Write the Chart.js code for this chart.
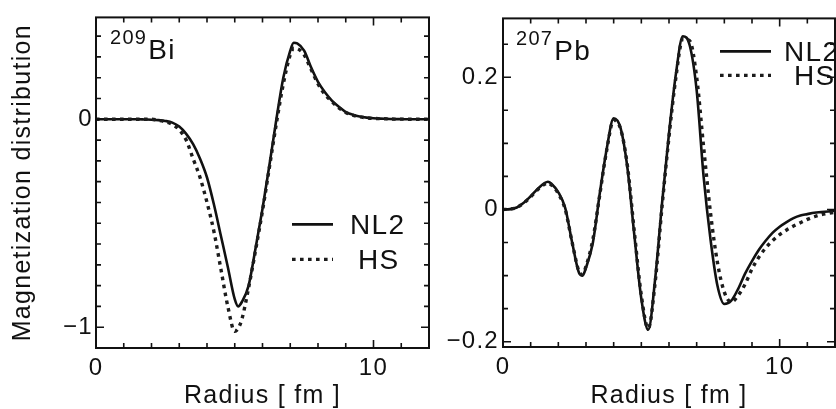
<!DOCTYPE html>
<html>
<head>
<meta charset="utf-8">
<script src="https://cdn.jsdelivr.net/npm/chart.js@4.4.1/dist/chart.umd.min.js"></script>
<style>
  html, body { margin: 0; padding: 0; background: #fff; }
  #wrap { position: relative; width: 836px; height: 409px; overflow: hidden; background: #fff; }
  #biBox { position: absolute; left: 0; top: 0; width: 440px; height: 409px; }
  #pbBox { position: absolute; left: 440px; top: 0; width: 396px; height: 409px; }
</style>
</head>
<body>
<div id="wrap">
  <div id="biBox"><canvas id="bi" width="440" height="409"></canvas></div>
  <div id="pbBox"><canvas id="pb" width="396" height="409"></canvas></div>
</div>
<script>
// 209Bi: radial knots [fm] and magnetization distribution
const biRadius = [0, 0.25, 0.5, 0.75, 1, 1.25, 1.5, 1.75, 2, 2.25, 2.5, 2.75, 3, 3.25, 3.5, 3.75,
  4, 4.25, 4.5, 4.75, 5, 5.125, 5.25, 5.5, 5.75, 6, 6.25, 6.5, 6.75, 7, 7.125, 7.25, 7.5, 7.75,
  8, 8.25, 8.5, 8.75, 9, 9.25, 9.5, 9.75, 10, 10.25, 10.5, 10.75, 11, 11.25, 11.5, 11.75, 12];
const biNL2 = [0, 0, 0, 0, 0, 0, 0, -0.001, -0.002, -0.004, -0.008, -0.016, -0.035, -0.07, -0.12, -0.19,
  -0.28, -0.41, -0.56, -0.71, -0.865, -0.90, -0.88, -0.80, -0.62, -0.43, -0.22, 0.0, 0.2, 0.33, 0.368, 0.365, 0.33, 0.25,
  0.18, 0.13, 0.09, 0.06, 0.035, 0.022, 0.013, 0.008, 0.005, 0.003, 0.002, 0.001, 0.001, 0, 0, 0, 0];
const biHS = [0, 0, 0, 0, 0, 0, 0, 0, 0, -0.005, -0.012, -0.025, -0.05, -0.10, -0.19, -0.28,
  -0.40, -0.54, -0.72, -0.90, -1.02, -1.005, -0.965, -0.81, -0.63, -0.44, -0.23, -0.02, 0.17, 0.31, 0.342, 0.34, 0.31, 0.24,
  0.17, 0.12, 0.085, 0.055, 0.033, 0.02, 0.012, 0.007, 0.004, 0.003, 0.002, 0.001, 0.001, 0, 0, 0, 0];

// 207Pb: radial knots [fm] and magnetization distribution
const pbRadius = [0, 0.25, 0.5, 0.75, 1, 1.25, 1.5, 1.625, 1.75, 2, 2.25, 2.5, 2.75, 2.875, 3,
  3.25, 3.5, 3.75, 4, 4.25, 4.5, 4.75, 5, 5.25, 5.5, 5.75, 6, 6.25, 6.5, 6.75, 7, 7.25, 7.5, 7.75,
  8, 8.25, 8.5, 8.75, 9, 9.25, 9.5, 9.75, 10, 10.25, 10.5, 10.75, 11, 11.25, 11.5, 11.75, 12];
const pbNL2 = [0, 0.0005, 0.003, 0.01, 0.02, 0.031, 0.04, 0.042, 0.039, 0.026, 0.002, -0.05, -0.096, -0.10, -0.088,
  -0.05, 0.025, 0.092, 0.138, 0.123, 0.062, -0.04, -0.135, -0.182, -0.105, 0.01, 0.115, 0.205, 0.262, 0.248, 0.18, 0.05, -0.045, -0.115,
  -0.143, -0.138, -0.12, -0.097, -0.078, -0.061, -0.047, -0.035, -0.026, -0.019, -0.013, -0.009, -0.007, -0.005, -0.004, -0.003, -0.002];
const pbHS = [0, 0.0005, 0.003, 0.01, 0.019, 0.03, 0.038, 0.04, 0.037, 0.024, 0.0, -0.05, -0.094, -0.098, -0.086,
  -0.045, 0.023, 0.09, 0.135, 0.122, 0.065, -0.035, -0.13, -0.18, -0.11, 0.005, 0.11, 0.2, 0.258, 0.255, 0.2, 0.095, -0.005, -0.08,
  -0.125, -0.14, -0.13, -0.113, -0.09, -0.072, -0.058, -0.047, -0.038, -0.031, -0.025, -0.02, -0.015, -0.011, -0.008, -0.006, -0.004];

// Labelled ticks
const radiusTicks = [0, 10];
const biTicks = [-1, 0];
const pbTicks = [-0.2, 0, 0.2];

// Texts
const seriesNames = ['NL2', 'HS'];
const biNucleus = ['209', 'Bi'];
const pbNucleus = ['207', 'Pb'];
const xTitle = 'Radius [ fm ]';
const yTitle = 'Magnetization distribution';

const FONT = "'Liberation Sans', Arial, Helvetica, sans-serif";
const INK = '#111';

function points(rs, values) {
  return rs.map((r, i) => ({ x: r, y: values[i] }));
}

function fmt(v) {
  const s = String(Math.round(v * 100) / 100);
  return s.replace('-', '\u2212');
}

function isMajor(v, list) {
  return list.some(t => Math.abs(t - v) < 1e-9);
}

// Frame, inward tick marks, nucleus label and in-plot legend
function panelPlugin(cfg) {
  return {
    id: 'panel_' + cfg.name,
    beforeDraw(chart) {
      chart.ctx.letterSpacing = '1.3px';
    },
    afterDatasetsDraw(chart) {
      const { ctx, chartArea: ca } = chart;
      const xs = chart.scales.x, ys = chart.scales.y;
      ctx.save();
      ctx.strokeStyle = INK;
      ctx.lineWidth = 2;
      ctx.strokeRect(ca.left, ca.top, ca.right - ca.left, ca.bottom - ca.top);

      ctx.lineWidth = 1.6;
      ctx.beginPath();
      for (let k = Math.ceil(xs.min / cfg.xStep); k * cfg.xStep <= xs.max + 1e-9; k++) {
        const v = k * cfg.xStep;
        const px = xs.getPixelForValue(v);
        if (px <= ca.left + 1 || px >= ca.right - 1) continue;
        const len = isMajor(v, radiusTicks) ? 8 : 5;
        ctx.moveTo(px, ca.bottom); ctx.lineTo(px, ca.bottom - len);
        ctx.moveTo(px, ca.top); ctx.lineTo(px, ca.top + len);
      }
      for (let k = Math.ceil(ys.min / cfg.yStep - 1e-9); k * cfg.yStep <= ys.max + 1e-9; k++) {
        const v = k * cfg.yStep;
        const py = ys.getPixelForValue(v);
        if (py <= ca.top + 1 || py >= ca.bottom - 1) continue;
        const len = isMajor(v, cfg.yTicks) ? 8 : 5;
        ctx.moveTo(ca.left, py); ctx.lineTo(ca.left + len, py);
        ctx.moveTo(ca.right, py); ctx.lineTo(ca.right - len, py);
      }
      ctx.stroke();

      // nucleus label with mass number as superscript
      ctx.fillStyle = INK;
      ctx.textBaseline = 'alphabetic';
      ctx.textAlign = 'left';
      ctx.font = '20px ' + FONT;
      ctx.fillText(cfg.nucleus[0], ca.left + cfg.nuc.x, ca.top + cfg.nuc.supY);
      const w = ctx.measureText(cfg.nucleus[0]).width;
      ctx.font = '28px ' + FONT;
      ctx.fillText(cfg.nucleus[1], ca.left + cfg.nuc.x + w + 1, ca.top + cfg.nuc.y);

      // legend
      chart.data.datasets.forEach((ds, i) => {
        const L = cfg.legend[i];
        ctx.save();
        ctx.strokeStyle = ds.borderColor;
        ctx.lineWidth = ds.borderWidth;
        ctx.setLineDash(ds.borderDash || []);
        ctx.beginPath();
        ctx.moveTo(ca.left + L.x0, ca.top + L.ly);
        ctx.lineTo(ca.left + L.x1, ca.top + L.ly);
        ctx.stroke();
        ctx.restore();
        ctx.font = '28px ' + FONT;
        ctx.fillStyle = INK;
        ctx.fillText(ds.label, ca.left + L.tx, ca.top + L.ty);
      });
      ctx.restore();
    }
  };
}

function makeChart(id, cfg) {
  const datasets = [
    { label: seriesNames[0], data: points(cfg.r, cfg.nl2), borderColor: INK, borderWidth: 2.6,
      pointRadius: 0, cubicInterpolationMode: 'monotone', fill: false, order: 1 },
    { label: seriesNames[1], data: points(cfg.r, cfg.hs), borderColor: '#1c1c1c', borderWidth: 3.4,
      borderDash: [3.6, 4.4], pointRadius: 0, cubicInterpolationMode: 'monotone', fill: false, order: 0 }
  ];
  return new Chart(document.getElementById(id), {
    type: 'line',
    data: { datasets },
    options: {
      responsive: false,
      animation: false,
      devicePixelRatio: 1,
      layout: { padding: { left: 0, top: 15, right: cfg.padR, bottom: 0 } },
      plugins: { legend: { display: false }, tooltip: { enabled: false } },
      scales: {
        x: {
          type: 'linear', min: 0, max: 12,
          afterBuildTicks: s => { s.ticks = radiusTicks.map(v => ({ value: v })); },
          afterFit: s => { s.height = cfg.xH; },
          ticks: { font: { family: FONT, size: 24 }, color: INK, padding: 6,
                   maxRotation: 0, autoSkip: false, callback: v => fmt(v) },
          grid: { display: false, drawTicks: false, tickLength: 0 },
          border: { display: false },
          title: { display: true, text: xTitle, color: INK,
                   font: { family: FONT, size: 25, lineHeight: 1 }, padding: { top: 0, bottom: 0.5 } }
        },
        y: {
          type: 'linear', min: cfg.yMin, max: cfg.yMax,
          afterBuildTicks: s => { s.ticks = cfg.yTicks.map(v => ({ value: v })); },
          afterFit: s => { s.width = cfg.yW; },
          ticks: { font: { family: FONT, size: 24 }, color: INK, padding: cfg.yPad,
                   autoSkip: false, callback: v => fmt(v) },
          grid: { display: false, drawTicks: false, tickLength: 0 },
          border: { display: false },
          title: { display: cfg.showYTitle, text: yTitle, color: INK,
                   font: { family: FONT, size: 25, lineHeight: 1 }, padding: { top: 10.5, bottom: 0 } }
        }
      }
    },
    plugins: [panelPlugin(cfg)]
  });
}

makeChart('bi', {
  name: 'bi', r: biRadius, nl2: biNL2, hs: biHS, nucleus: biNucleus,
  yMin: -1.1, yMax: 0.49, yTicks: biTicks, xStep: 1, yStep: 0.1,
  xH: 61, yW: 96, padR: 11, yPad: 3, showYTitle: true,
  nuc: { x: 14, supY: 27, y: 42 },
  legend: [
    { x0: 196, x1: 237, ly: 207, tx: 254, ty: 217 },
    { x0: 196, x1: 237, ly: 242, tx: 262, ty: 252 }
  ]
});

makeChart('pb', {
  name: 'pb', r: pbRadius, nl2: pbNL2, hs: pbHS, nucleus: pbNucleus,
  yMin: -0.208, yMax: 0.289, yTicks: pbTicks, xStep: 1, yStep: 0.05,
  xH: 62, yW: 63, padR: 1, yPad: 4, showYTitle: false,
  nuc: { x: 13, supY: 27, y: 42 },
  legend: [
    { x0: 217, x1: 268, ly: 33, tx: 281, ty: 43 },
    { x0: 217, x1: 268, ly: 57, tx: 291, ty: 67 }
  ]
});
</script>
</body>
</html>
